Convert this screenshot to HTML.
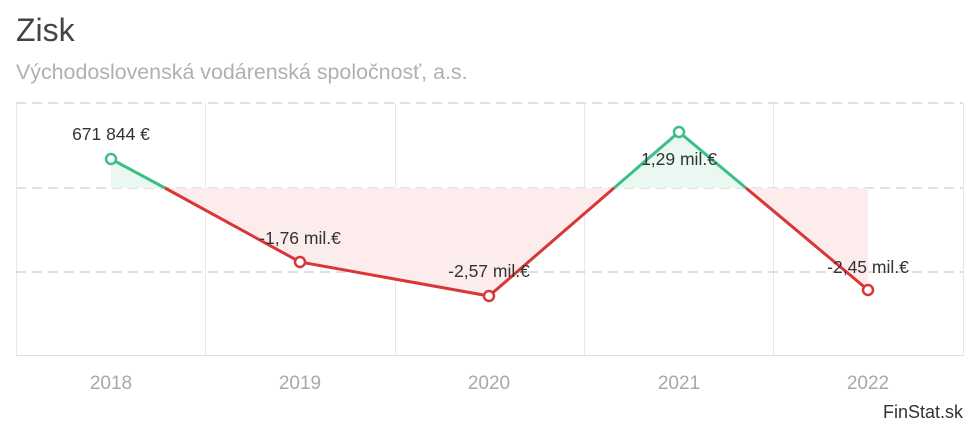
<!DOCTYPE html>
<html><head><meta charset="utf-8"><style>
body{margin:0;background:#fff;width:980px;height:425px;overflow:hidden;font-family:"Liberation Sans",sans-serif}
</style></head><body>
<svg width="980" height="425" xmlns="http://www.w3.org/2000/svg" font-family="Liberation Sans, sans-serif">
<text x="16" y="41" font-size="32" fill="#444">Zisk</text>
<text x="16" y="79" font-size="21.4" fill="#b0b0b0">Východoslovenská vodárenská spoločnosť, a.s.</text>
<g stroke="#e8e8e8" stroke-width="1">
<line x1="16.5" y1="103" x2="16.5" y2="356"/><line x1="205.5" y1="103" x2="205.5" y2="356"/><line x1="395.5" y1="103" x2="395.5" y2="356"/><line x1="584.5" y1="103" x2="584.5" y2="356"/><line x1="773.5" y1="103" x2="773.5" y2="356"/><line x1="963.5" y1="103" x2="963.5" y2="356"/>
</g>
<g stroke="#e0e0e0" stroke-width="2" stroke-dasharray="10,6">
<line x1="16" y1="103" x2="963" y2="103"/><line x1="16" y1="188" x2="963" y2="188"/><line x1="16" y1="272" x2="963" y2="272"/>
</g>
<line x1="16" y1="355.5" x2="963" y2="355.5" stroke="#e0e0e0" stroke-width="1"/>
<polygon points="111,159 165,188 111,188" fill="#eaf8f2"/>
<polygon points="614,188 679,132 746,188" fill="#eaf8f2"/>
<polygon points="165,188 300,262 489,296 614,188" fill="#fcecec"/>
<polygon points="746,188 868,290 868,188" fill="#fcecec"/>
<polyline points="111,159 165,188" fill="none" stroke="#3cbf85" stroke-width="3"/>
<polyline points="614,188 679,132 746,188" fill="none" stroke="#3cbf85" stroke-width="3"/>
<polyline points="165,188 300,262 489,296 614,188" fill="none" stroke="#d93636" stroke-width="3"/>
<polyline points="746,188 868,290" fill="none" stroke="#d93636" stroke-width="3"/>
<g font-size="17.5" fill="#333" text-anchor="middle">
<text x="111" y="140">671 844 €</text>
<text x="300" y="244">-1,76 mil.€</text>
<text x="489" y="277">-2,57 mil.€</text>
<text x="679" y="165">1,29 mil.€</text>
<text x="868" y="273">-2,45 mil.€</text>
</g>
<g fill="#fff" stroke-width="2.5">
<circle cx="111" cy="159" r="5" stroke="#3cbf85"/>
<circle cx="300" cy="262" r="5" stroke="#d93636"/>
<circle cx="489" cy="296" r="5" stroke="#d93636"/>
<circle cx="679" cy="132" r="5" stroke="#3cbf85"/>
<circle cx="868" cy="290" r="5" stroke="#d93636"/>
</g>
<g font-size="19" fill="#a8a8a8" text-anchor="middle">
<text x="111" y="389">2018</text><text x="300" y="389">2019</text><text x="489" y="389">2020</text><text x="679" y="389">2021</text><text x="868" y="389">2022</text>
</g>
<text x="963" y="418" font-size="18" fill="#333" text-anchor="end">FinStat.sk</text>
</svg>
</body></html>
